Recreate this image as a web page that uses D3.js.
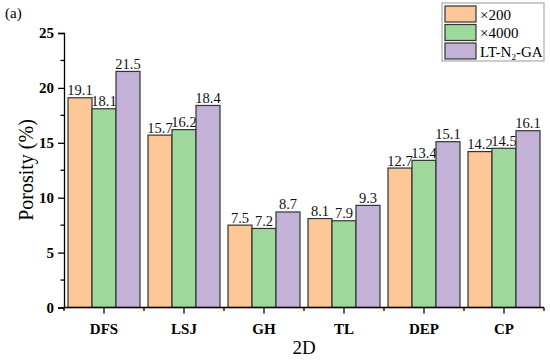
<!DOCTYPE html>
<html>
<head>
<meta charset="utf-8">
<script src="https://cdn.jsdelivr.net/npm/d3@7"></script>
<style>
  body { margin: 0; background: #fff; }
</style>
</head>
<body>
<svg id="chart" width="550" height="361"></svg>
<script>
// chart data
var sites = ['DFS', 'LSJ', 'GH', 'TL', 'DEP', 'CP'];
var seriesNames = ['×200', '×4000', 'LT-N2-GA'];
var x200 = [19.1, 15.7, 7.5, 8.1, 12.7, 14.2];
var x4000 = [18.1, 16.2, 7.2, 7.9, 13.4, 14.5];
var ltn2ga = [21.5, 18.4, 8.7, 9.3, 15.1, 16.1];
var yTicks = [0, 5, 10, 15, 20, 25];

var colors = ['#fdc897', '#9ed89a', '#c3b1d8'];
var series = [x200, x4000, ltn2ga];
var serif = '"Times New Roman", "Liberation Serif", Tinos, serif';

var svg = d3.select('#chart').attr('font-family', serif);
var plotLeft = 64, plotRight = 544, plotTop = 33, plotBottom = 307.5;

var x = d3.scaleBand().domain(sites).range([plotLeft, plotRight]).paddingInner(0.1).paddingOuter(0.05);
var x1 = d3.scaleBand().domain(d3.range(3)).range([0, x.bandwidth()]);
var y = d3.scaleLinear().domain([0, 25]).range([plotBottom, plotTop]);

// bars
sites.forEach(function(s, i) {
    var g = svg.append('g').attr('transform', 'translate(' + x(s) + ',0)');
    series.forEach(function(vals, k) {
        g.append('rect')
            .attr('x', x1(k))
            .attr('y', y(vals[i]))
            .attr('width', x1.bandwidth())
            .attr('height', y(0) - y(vals[i]))
            .attr('fill', colors[k])
            .attr('stroke', '#333')
            .attr('stroke-width', 1.2);
        g.append('text')
            .attr('x', x1(k) + x1.bandwidth() / 2)
            .attr('y', y(vals[i]) - 2.5)
            .attr('text-anchor', 'middle')
            .attr('font-size', 14.5)
            .attr('fill', '#111')
            .text(vals[i].toFixed(1));
    });
});

// y axis
var yAxis = d3.axisLeft(y).tickValues(yTicks).tickSize(6).tickPadding(4);
var gy = svg.append('g').attr('transform', 'translate(' + plotLeft + ',0)').call(yAxis);
gy.attr('font-family', serif);
gy.select('.domain').attr('stroke', '#000').attr('stroke-width', 1.3);
gy.selectAll('.tick line').attr('stroke', '#000').attr('stroke-width', 1.3);
gy.selectAll('.tick text').attr('font-size', 15).attr('font-weight', 'bold').attr('fill', '#000');
[2.5, 7.5, 12.5, 17.5, 22.5].forEach(function(v) {
    svg.append('line').attr('x1', plotLeft - 3.5).attr('x2', plotLeft)
        .attr('y1', y(v)).attr('y2', y(v)).attr('stroke', '#000').attr('stroke-width', 1.3);
});

// x axis
var xAxis = d3.axisBottom(x).tickSize(6).tickPadding(10).tickSizeOuter(0);
var gx = svg.append('g').attr('transform', 'translate(0,' + plotBottom + ')').call(xAxis);
gx.attr('font-family', serif);
gx.select('.domain').attr('stroke', '#000').attr('stroke-width', 1.3)
    .attr('d', 'M' + plotLeft + ',0H' + plotRight);
gx.selectAll('.tick line').attr('stroke', '#000').attr('stroke-width', 1.3);
gx.selectAll('.tick text').attr('font-size', 15).attr('font-weight', 'bold').attr('fill', '#000');
var step = (plotRight - plotLeft) / sites.length;
d3.range(sites.length + 1).forEach(function(i) {
    var xx = plotLeft + i * step;
    svg.append('line').attr('x1', xx).attr('x2', xx)
        .attr('y1', plotBottom).attr('y2', plotBottom + 3.5).attr('stroke', '#000').attr('stroke-width', 1.3);
});

// titles
svg.append('text').attr('x', 5).attr('y', 18).attr('font-size', 15).text('(a)');
svg.append('text')
    .attr('transform', 'translate(33,170) rotate(-90)')
    .attr('text-anchor', 'middle').attr('font-size', 20).text('Porosity (%)');
svg.append('text').attr('x', 304).attr('y', 354)
    .attr('text-anchor', 'middle').attr('font-size', 19).text('2D');

// legend
var lg = svg.append('g').attr('transform', 'translate(442,3)');
lg.append('rect').attr('width', 102).attr('height', 58)
    .attr('fill', '#fff').attr('stroke', '#999').attr('stroke-width', 1);
seriesNames.forEach(function(n, k) {
    lg.append('rect').attr('x', 3).attr('y', 3 + k * 18.5).attr('width', 31).attr('height', 16)
        .attr('fill', colors[k]).attr('stroke', '#333').attr('stroke-width', 1.2);
    var t = lg.append('text').attr('x', 38).attr('y', 16.5 + k * 18.5).attr('font-size', 15);
    if (n === 'LT-N2-GA') {
        t.append('tspan').text('LT-N');
        t.append('tspan').attr('font-size', 9).attr('dy', 3).text('2');
        t.append('tspan').attr('dy', -3).text('-GA');
    } else {
        t.text(n);
    }
});
</script>
</body>
</html>
